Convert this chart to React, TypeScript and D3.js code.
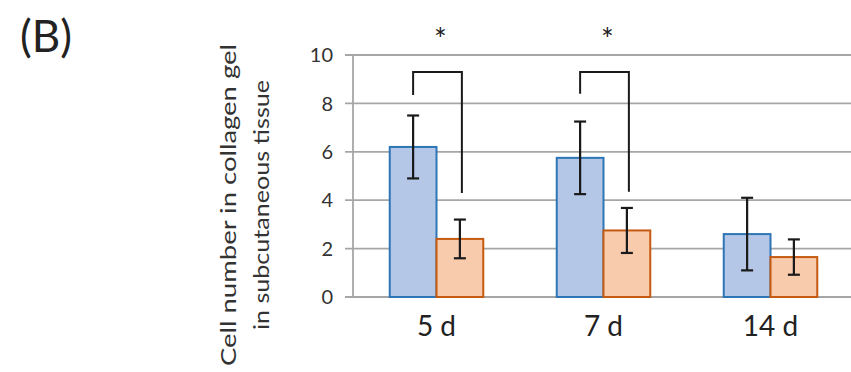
import React from 'react';
import * as d3 from 'd3';

// chart values
const days = ['5 d', '7 d', '14 d'];
const groups = ['control', 'treated'];
const meanControl = [6.2, 5.75, 2.6];
const errControl = [1.3, 1.5, 1.5];
const meanTreated = [2.4, 2.75, 1.65];
const errTreated = [0.8, 0.93, 0.73];
const yTicks = [0, 2, 4, 6, 8, 10];
// significance brackets: top of the bracket and where each foot ends
const brackets = [
  { day: '5 d', top: 9.3, left: 8.35, right: 4.3 },
  { day: '7 d', top: 9.3, left: 8.4, right: 4.35 },
];

const W = 851;
const H = 372;
const margin = { left: 353, right: -3, top: 55, bottom: 75 };

const fills = ['#b4c7e7', '#f8cbad'];
const strokes = ['#2e75b6', '#c55a11'];
const font = 'Lato, "Open Sans", sans-serif';

const App = () => {
  const x = d3.scaleBand<string>()
    .domain(days)
    .range([margin.left, W - margin.right])
    .paddingInner(0.44)
    .paddingOuter(0.22);

  const xg = d3.scaleBand<string>()
    .domain(groups)
    .range([0, x.bandwidth()]);

  const y = d3.scaleLinear()
    .domain([0, 10])
    .range([H - margin.bottom, margin.top]);

  const series = [
    { means: meanControl, errs: errControl },
    { means: meanTreated, errs: errTreated },
  ];

  const cap = 6;

  return (
    <svg width={W} height={H} style={{ position: 'absolute', left: 0, top: 0, background: '#fff' }}>
      <text x={20} y={52} fontFamily={font} fontSize={44} fill="#222">(B)</text>

      {/* gridlines and ticks */}
      {yTicks.map(t => (
        <g key={t}>
          <line x1={margin.left - 8} x2={W} y1={y(t)} y2={y(t)} stroke="#a6a6a6" strokeWidth={1.8} />
          <text x={333} y={y(t)} dy="0.36em" textAnchor="end" fontFamily={font} fontSize={20} fill="#333">{t}</text>
        </g>
      ))}
      <line x1={margin.left} x2={margin.left} y1={y(10)} y2={y(0)} stroke="#a6a6a6" strokeWidth={1.8} />

      {/* y axis title */}
      <g transform={`translate(0,205) rotate(-90)`} fontFamily={font} fontSize={22} fill="#333" textAnchor="middle">
        <text x={0} y={236} textLength={322} lengthAdjust="spacingAndGlyphs">Cell number in collagen gel</text>
        <text x={0} y={269} textLength={250} lengthAdjust="spacingAndGlyphs">in subcutaneous tissue</text>
      </g>

      {/* bars */}
      {series.map((s, si) => (
        <g key={groups[si]}>
          {days.map((d, i) => (
            <rect key={d}
              x={(x(d) ?? 0) + (xg(groups[si]) ?? 0)}
              y={y(s.means[i])}
              width={xg.bandwidth()}
              height={y(0) - y(s.means[i])}
              fill={fills[si]}
              stroke={strokes[si]}
              strokeWidth={2} />
          ))}
        </g>
      ))}

      {/* error bars */}
      {series.map((s, si) => (
        <g key={'e' + si} stroke="#1a1a1a" strokeWidth={2.2}>
          {days.map((d, i) => {
            const cx = (x(d) ?? 0) + (xg(groups[si]) ?? 0) + xg.bandwidth() / 2;
            const hi = y(s.means[i] + s.errs[i]);
            const lo = y(s.means[i] - s.errs[i]);
            return (
              <g key={d}>
                <line x1={cx} x2={cx} y1={hi} y2={lo} />
                <line x1={cx - cap} x2={cx + cap} y1={hi} y2={hi} />
                <line x1={cx - cap} x2={cx + cap} y1={lo} y2={lo} />
              </g>
            );
          })}
        </g>
      ))}

      {/* significance brackets */}
      {brackets.map(b => {
        const x1 = (x(b.day) ?? 0) + (xg('control') ?? 0) + xg.bandwidth() / 2;
        const x2 = (x(b.day) ?? 0) + (xg('treated') ?? 0) + xg.bandwidth() / 2 + 2;
        return (
          <g key={b.day}>
            <path d={`M${x1},${y(b.left)}V${y(b.top)}H${x2}V${y(b.right)}`} fill="none" stroke="#1a1a1a" strokeWidth={2} />
            <text x={(x1 + x2) / 2 + 3} y={50} textAnchor="middle" fontFamily={font} fontSize={30} fill="#222">*</text>
          </g>
        );
      })}

      {/* x labels */}
      {days.map(d => (
        <text key={d} x={(x(d) ?? 0) + x.bandwidth() / 2} y={336} textAnchor="middle" fontFamily={font} fontSize={28} fill="#222">{d}</text>
      ))}
    </svg>
  );
};

export default App;
